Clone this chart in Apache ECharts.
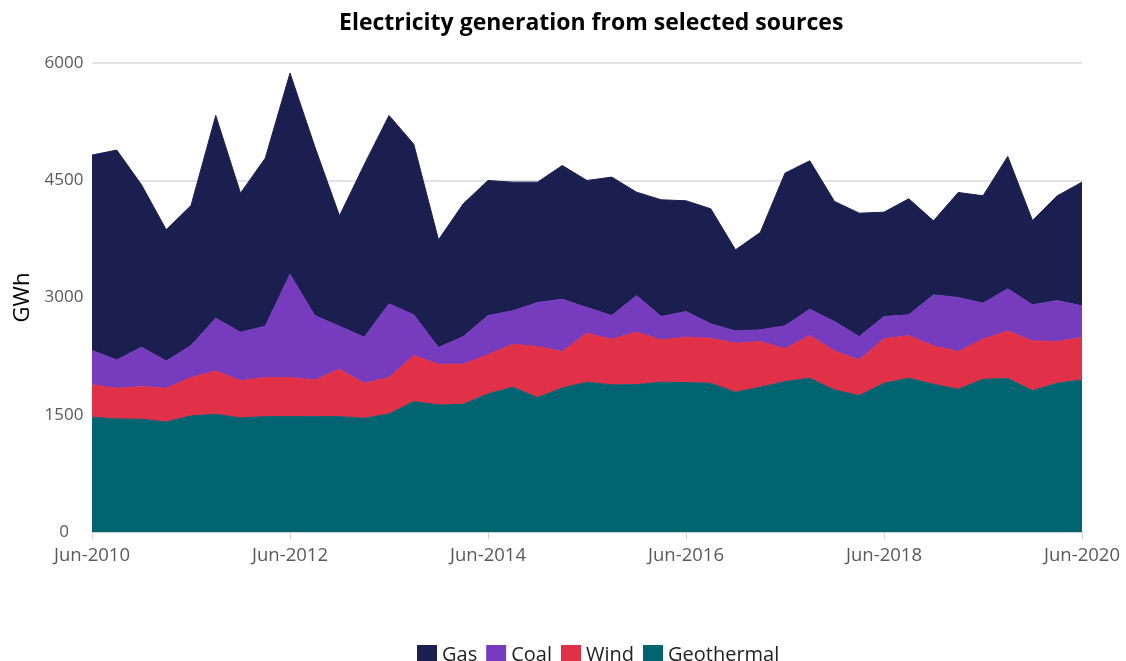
<!DOCTYPE html>
<html>
<head>
<meta charset="utf-8">
<script src="https://cdn.jsdelivr.net/npm/echarts@6/dist/echarts.min.js"></script>
<style>
  html, body { margin: 0; padding: 0; background: #fff; }
  #chart { width: 1126px; height: 661px; }
</style>
</head>
<body>
<div id="chart"></div>
<script>
// quarters, Jun-2010 .. Jun-2020
var quarters = [];
var months = ['Mar', 'Jun', 'Sep', 'Dec'];
for (var y = 2010; y <= 2020; y++) {
    for (var q = 0; q < 4; q++) {
        if (y == 2010 && q < 1) continue;
        if (y == 2020 && q > 1) continue;
        quarters.push(months[q] + '-' + y);
    }
}

// GWh per quarter
var geothermal = [1468, 1447, 1442, 1408, 1485, 1506, 1459, 1476, 1476, 1476, 1476, 1455, 1510, 1668,
    1626, 1634, 1767, 1852, 1720, 1843, 1916, 1882, 1886, 1916, 1912, 1903, 1788, 1852,
    1924, 1967, 1818, 1745, 1903, 1967, 1890, 1826, 1954, 1963, 1809, 1903, 1946];
var wind = [414, 392, 418, 431, 491, 555, 478, 500, 500, 470, 606, 448, 466, 589,
    520, 512, 499, 550, 652, 465, 627, 584, 670, 542, 580, 576, 627, 584,
    419, 546, 499, 457, 568, 546, 491, 482, 512, 610, 636, 533, 542];
var coal = [439, 363, 504, 350, 409, 674, 619, 657, 1322, 823, 551, 589, 943, 521,
    214, 354, 503, 427, 564, 670, 329, 303, 469, 298, 328, 184, 158, 150,
    294, 337, 375, 298, 285, 265, 653, 692, 461, 538, 461, 525, 405];
var gas = [2501, 2684, 2078, 1677, 1792, 2594, 1779, 2150, 2573, 2163, 1412, 2208, 2410, 2184,
    1378, 1699, 1728, 1647, 1540, 1711, 1625, 1771, 1323, 1494, 1417, 1472, 1037, 1246,
    1954, 1899, 1537, 1579, 1336, 1485, 947, 1344, 1374, 1694, 1079, 1340, 1583];

var colors = {
    'Gas': '#1b1f50',
    'Coal': '#763cbd',
    'Wind': '#e13149',
    'Geothermal': '#026371'
};

function areaSeries(name, values) {
    return {
        name: name,
        type: 'line',
        stack: 'total',
        showSymbol: false,
        symbol: 'none',
        lineStyle: { width: 1, color: colors[name] },
        areaStyle: { color: colors[name], opacity: 1 },
        itemStyle: { color: colors[name] },
        data: values
    };
}

var chart = echarts.init(document.getElementById('chart'));
chart.setOption({
    animation: false,
    textStyle: { fontFamily: '"Open Sans", "Noto Sans", sans-serif' },
    title: {
        text: 'Electricity generation from selected sources',
        left: 334,
        top: 7,
        textStyle: { fontSize: 23, fontWeight: 'bold', color: '#000' }
    },
    legend: {
        top: 640,
        left: 412,
        itemWidth: 20,
        itemHeight: 20,
        itemGap: 9,
        icon: 'rect',
        textStyle: { fontSize: 20, color: '#222' },
        data: ['Gas', 'Coal', 'Wind', 'Geothermal']
    },
    grid: { left: 92, right: 44, top: 63, bottom: 129, outerBoundsMode: 'none' },
    xAxis: {
        type: 'category',
        boundaryGap: false,
        data: quarters,
        axisLine: { lineStyle: { color: '#d0d0d0', width: 1 } },
        axisTick: { interval: 7, length: 7, lineStyle: { color: '#d0d0d0' } },
        axisLabel: { interval: 7, fontSize: 18.5, color: '#595959', margin: 14 }
    },
    yAxis: {
        type: 'value',
        min: 0,
        max: 6000,
        interval: 1500,
        name: 'GWh',
        nameLocation: 'middle',
        nameGap: 58,
        nameTextStyle: { fontSize: 22, color: '#000' },
        axisLine: { show: false },
        axisTick: { show: false },
        axisLabel: {
            fontSize: 17, color: '#595959', margin: 28, align: 'center',
            formatter: function (v) { return String(v); }
        },
        splitLine: { lineStyle: { color: '#e3e3e3', width: 2 } }
    },
    series: [
        areaSeries('Geothermal', geothermal),
        areaSeries('Wind', wind),
        areaSeries('Coal', coal),
        areaSeries('Gas', gas)
    ]
});
</script>
</body>
</html>
